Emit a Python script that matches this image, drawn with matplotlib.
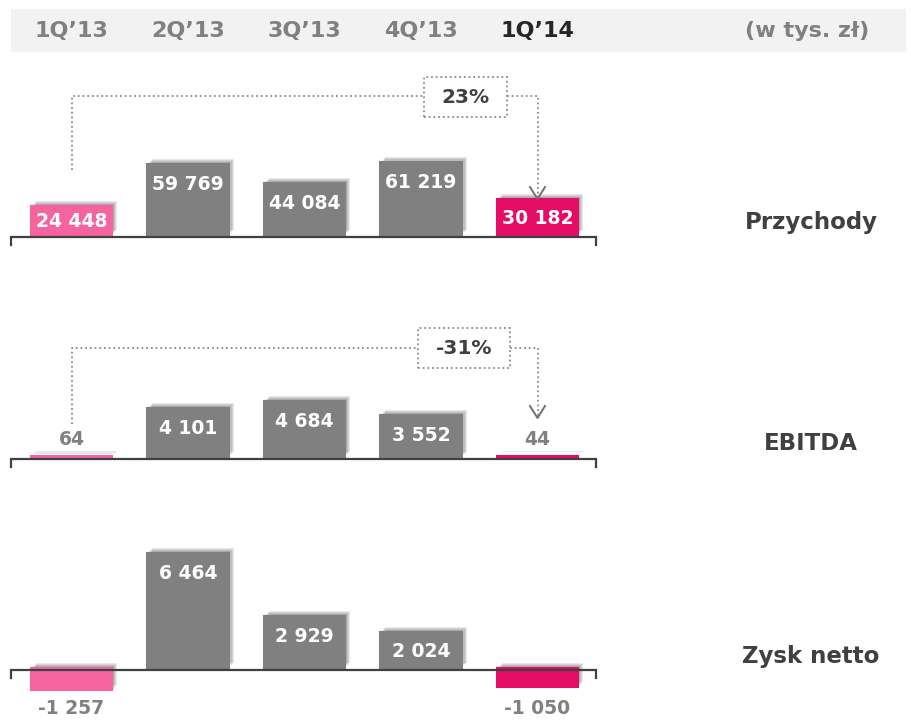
import matplotlib.pyplot as plt
from matplotlib.patches import Rectangle
from matplotlib import patheffects as pe
from matplotlib.transforms import blended_transform_factory

# data (w tys. zł)
quarters = ["1Q’13", "2Q’13", "3Q’13", "4Q’13", "1Q’14"]
unit_label = "(w tys. zł)"
panel_names = ["Przychody", "EBITDA", "Zysk netto"]
revenue = [24448, 59769, 44084, 61219, 30182]
ebitda = [64, 4101, 4684, 3552, 44]
net_profit = [-1257, 6464, 2929, 2024, -1050]
changes = ["23%", "-31%", None]

bar_colors = ["#f5649f", "#808080", "#808080", "#808080", "#e50c66"]
header_colors = ["#808080", "#808080", "#808080", "#808080", "#262626"]

W, H = 911, 720
X0, DX = 71.5, 116.5   # pixel x of first bar centre and spacing
FONT = "DejaVu Sans"


def fx(px):
    return px / W


def fy(py):
    return 1 - py / H


def xd(px):
    return (px - X0) / DX


def fmt(v):
    return f"{v:,}".replace(",", " ")


fig = plt.figure(figsize=(W / 100, H / 100), dpi=100)
fig.patches.append(Rectangle((fx(11), fy(51)), fx(905) - fx(11), fy(9) - fy(51),
                             transform=fig.transFigure, color="#f2f2f2", zorder=-1))

# panel layout: baseline pixel, pixels per unit, connector geometry
layout = [
    dict(base=235, k=0.001188, label_y=222,
         conn=dict(start=170, level=96, box=(424, 507, 77, 117), tip=199)),
    dict(base=457, k=0.01195, label_y=443,
         conn=dict(start=424, level=348, box=(418, 510, 328, 368), tip=418)),
    dict(base=668, k=0.01779, label_y=656, conn=None),
]
series = [revenue, ebitda, net_profit]

shadow = [pe.SimplePatchShadow(offset=(o, o), shadow_rgbFace="#000000", alpha=0.09)
          for o in (1.2, 2.0, 2.8, 3.6)] + [pe.Normal()]

x = list(range(len(quarters)))
axes = []
for vals, lay, name, chg in zip(series, layout, panel_names, changes):
    base, k = lay["base"], lay["k"]
    ax = fig.add_axes([0, 0, 1, 1])
    ax.set_xlim(xd(0), xd(W))
    ax.set_ylim((base - H) / k, base / k)
    ax.axis("off")
    axes.append(ax)

    def py(p):
        return (base - p) / k

    bars = ax.bar(x, vals, width=0.7, color=bar_colors, edgecolor=bar_colors,
                  linewidth=1.5, zorder=3)
    for b in bars:
        b.set_path_effects(shadow)

    # baseline (sits just under the bars) with end ticks
    y0 = py(base + 1.6)
    ax.plot([xd(11), xd(11), xd(596), xd(596)], [y0 - 8 / k, y0, y0, y0 - 8 / k],
            color="#404040", lw=1.6, zorder=4, solid_joinstyle="miter")

    for i, v in enumerate(vals):
        h = abs(v) * k
        if v < 0:
            ax.annotate(fmt(v), (i, 0), xytext=(0, -46), textcoords="offset pixels",
                        ha="center", va="baseline", fontsize=13.5, weight="bold",
                        color="#808080", family=FONT, zorder=5)
        elif h < 20:
            ax.annotate(fmt(v), (i, v), xytext=(0, 11), textcoords="offset pixels",
                        ha="center", va="baseline", fontsize=13.5, weight="bold",
                        color="#808080", family=FONT, zorder=5)
        else:
            off = min(19, h / 2) + 7
            ax.annotate(fmt(v), (i, v), xytext=(0, -off), textcoords="offset pixels",
                        ha="center", va="baseline", fontsize=13.5, weight="bold",
                        color="white", family=FONT, zorder=5)

    fig.text(fx(811), fy(lay["label_y"]), name, ha="center", va="center",
             fontsize=16.5, weight="bold", color="#404040", family=FONT)

    c = lay["conn"]
    if c is not None:
        bl, br, bt, bb = c["box"]
        dot = dict(ls=(0, (1, 1.6)), color="#8a8a8a", lw=1.3, zorder=4)
        ax.plot([0, 0, xd(bl)], [py(c["start"]), py(c["level"]), py(c["level"])], **dot)
        ax.plot([xd(br), 4, 4], [py(c["level"]), py(c["level"]), py(c["tip"])], **dot)
        ax.add_patch(Rectangle((xd(bl), py(bb)), xd(br) - xd(bl), py(bt) - py(bb),
                               fc="white", ec="#8a8a8a", lw=1.3, ls=(0, (1, 1.6)), zorder=4))
        ax.text((xd(bl) + xd(br)) / 2, py((bt + bb) / 2), chg, ha="center", va="center",
                fontsize=14.5, weight="bold", color="#404040", family=FONT, zorder=5)
        hw = 7.5 / DX
        ax.plot([4 - hw, 4, 4 + hw], [py(c["tip"] - 12), py(c["tip"]), py(c["tip"] - 12)],
                color="#707070", lw=1.4, zorder=4)

# header row
htrans = blended_transform_factory(axes[0].transData, fig.transFigure)
for i, (q, col) in enumerate(zip(quarters, header_colors)):
    axes[0].text(i, fy(37), q, transform=htrans, ha="center", va="baseline",
                 fontsize=16, weight="bold", color=col, family=FONT, zorder=6)
fig.text(fx(807), fy(37), unit_label, ha="center", va="baseline",
         fontsize=16, weight="bold", color="#808080", family=FONT)

fig.savefig("out.png", dpi=100)
